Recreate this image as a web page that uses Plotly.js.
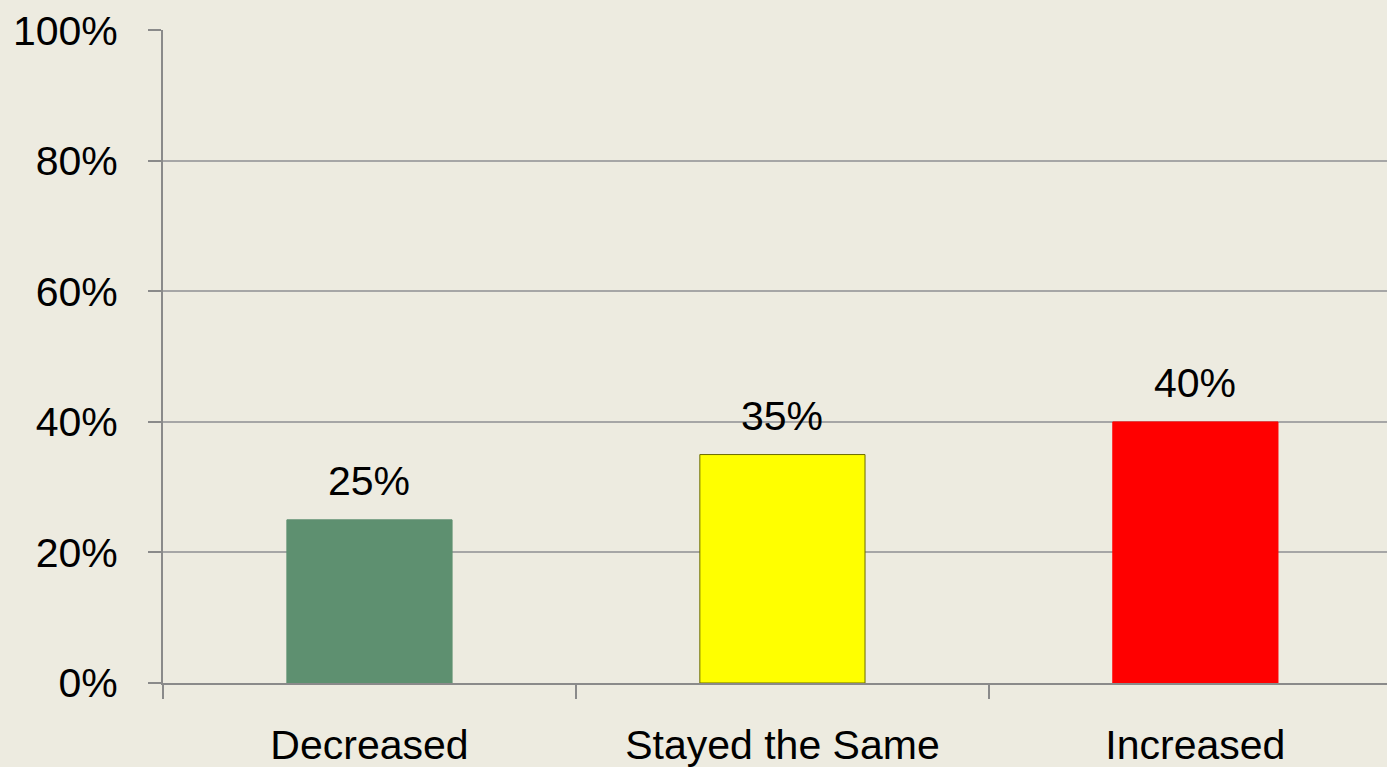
<!DOCTYPE html>
<html>
<head>
<meta charset="utf-8">
<script src="https://cdn.plot.ly/plotly-3.0.1.min.js"></script>
<style>html,body{margin:0;padding:0;background:#EDEBE0;}#chart{width:1387px;height:767px;}</style>
</head>
<body>
<div id="chart"></div>
<script>
const categories = ["Decreased", "Stayed the Same", "Increased"];
const values = [0.25, 0.35, 0.40];
const labels = ["25%", "35%", "40%"];
const barColors = ["#5E9070", "#FFFF00", "#FF0000"];
const barLines = ["#5E9070", "#6B6B00", "#FF0000"];
const yTicks = [0, 0.2, 0.4, 0.6, 0.8, 1.0];
const yTickText = ["0%", "20%", "40%", "60%", "80%", "100%"];

const font = "Liberation Sans, Arial, sans-serif";

const trace = {
  type: "bar",
  x: categories,
  y: values,
  width: 0.4,
  marker: {color: barColors, line: {color: barLines, width: 1}},
  hoverinfo: "none"
};

const annotations = categories.map((c, i) => ({
  x: c, y: values[i], xref: "x", yref: "y",
  text: labels[i], showarrow: false,
  yanchor: "bottom", yshift: 14,
  font: {family: font, size: 41, color: "#000"}
}));

const layout = {
  width: 1387, height: 767,
  paper_bgcolor: "#EDEBE0", plot_bgcolor: "#EDEBE0",
  margin: {l: 163, r: 0, t: 30, b: 84, pad: 0},
  showlegend: false,
  font: {family: font, size: 41, color: "#000"},
  xaxis: {
    type: "category",
    range: [-0.5, 2.464],
    showline: true, linecolor: "#8A8A8A", linewidth: 2,
    ticks: "outside", tickson: "boundaries", ticklen: 14, tickwidth: 2, tickcolor: "#8A8A8A",
    showgrid: false, zeroline: false,
    tickfont: {family: font, size: 41, color: "#000"},
    ticklabelstandoff: 25,
    fixedrange: true
  },
  yaxis: {
    range: [0, 1.0005],
    tickvals: yTicks, ticktext: yTickText,
    showline: true, linecolor: "#8A8A8A", linewidth: 2,
    ticks: "outside", ticklen: 13, tickwidth: 2, tickcolor: "#8A8A8A",
    showgrid: true, gridcolor: "#A6A6A6", gridwidth: 2,
    zeroline: false,
    tickfont: {family: font, size: 41, color: "#000"},
    ticklabelstandoff: 22,
    fixedrange: true
  },
  annotations: annotations
};

Plotly.newPlot("chart", [trace], layout, {displayModeBar: false, staticPlot: true});
</script>
</body>
</html>
